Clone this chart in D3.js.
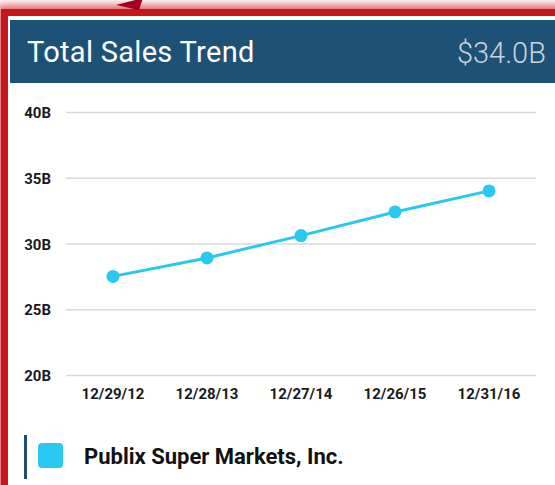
<!DOCTYPE html>
<html lang="en">
<head>
  <meta charset="UTF-8">
  <title>Total Sales Trend</title>
  <script src="https://d3js.org/d3.v7.min.js"></script>
  <style>
    html, body { margin: 0; padding: 0; background: #fff; overflow: hidden; }
    .axis text { font-family: Roboto, sans-serif; font-weight: 700; font-size: 15px; fill: #1a1a1a; }
    .axis .domain { display: none; }
  </style>
</head>
<body>
  <svg id="chart" width="555" height="485"></svg>

  <script>
    // Data
    const dates = ["12/29/12", "12/28/13", "12/27/14", "12/26/15", "12/31/16"];
    const sales = [27.5, 28.9, 30.6, 32.4, 34.0];   // billions
    const yTicks = [20, 25, 30, 35, 40];
    const seriesName = "Publix Super Markets, Inc.";
    const title = "Total Sales Trend";

    const width = 555, height = 485;
    const svg = d3.select("#chart");

    // red frame with soft glow
    const defs = svg.append("defs");
    defs.append("filter").attr("id", "glow")
      .attr("x", "-20%").attr("y", "-20%").attr("width", "140%").attr("height", "140%")
      .append("feGaussianBlur").attr("stdDeviation", 4);

    const frame = "M3,600 L3,11 L700,11";
    svg.append("path").attr("d", frame)
      .attr("fill", "none").attr("stroke", "#d42a30").attr("stroke-width", 12)
      .attr("opacity", 0.75).attr("filter", "url(#glow)");
    svg.append("path").attr("d", "M4.5,600 L4.5,12.5 L700,12.5")
      .attr("fill", "none").attr("stroke", "#c8161d").attr("stroke-width", 7);
    svg.append("rect").attr("x", 8).attr("y", 16).attr("width", width).attr("height", height)
      .attr("fill", "#fff");

    // small arrow head above the frame
    svg.append("path").attr("d", "M116,5 L143,-2 L139,10 Z").attr("fill", "#a3001f");

    // header
    svg.append("rect").attr("x", 10).attr("y", 20).attr("width", width).attr("height", 63)
      .attr("fill", "#1e5176");
    svg.append("text").attr("x", 27).attr("y", 62).text(title)
      .style("font-family", "Roboto, sans-serif").style("font-size", "29px")
      .style("letter-spacing", "0.3px").style("fill", "#fff");
    svg.append("text").attr("x", 546).attr("y", 63).attr("text-anchor", "end")
      .text("$" + d3.format(".1f")(sales[sales.length - 1]) + "B")
      .style("font-family", "Roboto, sans-serif").style("font-weight", 300)
      .style("font-size", "29px").style("fill", "#c9d4de");

    // scales
    const x = d3.scaleBand().domain(dates).range([66, 536]);
    const y = d3.scaleLinear().domain([20, 40]).range([375, 112]);

    // y axis + gridlines
    svg.append("g").attr("class", "axis")
      .attr("transform", "translate(66,0)")
      .call(d3.axisLeft(y).tickValues(yTicks).tickSize(-470).tickPadding(15).tickFormat(d => d + "B"))
      .call(g => g.selectAll(".tick line").attr("stroke", "#d9d9d9").attr("stroke-width", 1.5))
      .call(g => g.selectAll(".tick text").attr("dy", "0.38em"));

    // x axis
    svg.append("g").attr("class", "axis")
      .attr("transform", "translate(0,375)")
      .call(d3.axisBottom(x).tickSize(0).tickPadding(13));

    // line + points
    const color = "#29c8f1";
    const line = d3.line()
      .x((d, i) => x(dates[i]) + x.bandwidth() / 2)
      .y(d => y(d));
    svg.append("path").datum(sales)
      .attr("d", line).attr("fill", "none")
      .attr("stroke", color).attr("stroke-width", 3);
    svg.selectAll("circle.pt").data(sales).enter().append("circle")
      .attr("class", "pt")
      .attr("cx", (d, i) => x(dates[i]) + x.bandwidth() / 2)
      .attr("cy", d => y(d))
      .attr("r", 6.5)
      .attr("fill", color);

    // legend
    const legend = svg.append("g");
    legend.append("rect").attr("x", 24).attr("y", 435).attr("width", 3).attr("height", 44)
      .attr("fill", "#1f4e72");
    legend.append("rect").attr("x", 38).attr("y", 443).attr("width", 25).attr("height", 25)
      .attr("rx", 4).attr("fill", color);
    legend.append("text").attr("x", 84).attr("y", 464).text(seriesName)
      .style("font-family", "Roboto, sans-serif").style("font-weight", 700)
      .style("font-size", "22px").style("fill", "#111");
  </script>
</body>
</html>
